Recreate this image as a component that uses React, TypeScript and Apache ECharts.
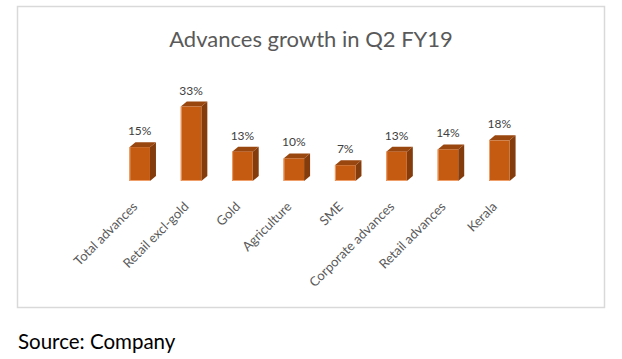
import React, { useEffect, useRef } from "react";
import * as echarts from "echarts";

const categories = [
  "Total advances",
  "Retail excl-gold",
  "Gold",
  "Agriculture",
  "SME",
  "Corporate advances",
  "Retail advances",
  "Kerala",
];
const growth = [15, 33, 13, 10, 7, 13, 14, 18];
const valueLabels = ["15%", "33%", "13%", "10%", "7%", "13%", "14%", "18%"];

const FONT = "Lato, 'Noto Sans', sans-serif";

export default function App() {
  const ref = useRef<HTMLDivElement>(null);
  useEffect(() => {
    if (!ref.current) return;
    const chart = echarts.init(ref.current, null, { renderer: "svg" });
    const dx = 6;
    const dy = 5;
    chart.setOption({
      animation: false,
      backgroundColor: "#ffffff",
      title: [
        {
          text: "Advances growth in Q2 FY19",
          left: "center",
          top: 22,
          textStyle: { fontFamily: FONT, fontSize: 22, fontWeight: "normal", color: "#595959" },
        },
        {
          text: "Source: Company",
          left: 13,
          top: 325,
          textStyle: { fontFamily: FONT, fontSize: 20.5, fontWeight: "normal", color: "#000000" },
        },
      ],
      graphic: [
        {
          type: "rect",
          shape: { x: 17.5, y: 6.5, width: 587, height: 301 },
          style: { fill: "none", stroke: "#D9D9D9", lineWidth: 1.5 },
          silent: true,
        },
      ],
      grid: { left: 114, right: 97, top: 102, bottom: 178 },
      xAxis: {
        type: "category",
        data: categories,
        axisLine: { show: false },
        axisTick: { show: false },
        axisLabel: {
          rotate: 45,
          interval: 0,
          margin: 18,
          padding: [0, 7, 0, 0],
          fontFamily: FONT,
          fontSize: 13,
          color: "#595959",
        },
      },
      yAxis: { type: "value", min: 0, max: 35, show: false, splitLine: { show: false } },
      series: [
        {
          type: "custom",
          data: growth.map((v, i) => [i, v]),
          encode: { x: 0, y: 1 },
          renderItem: (params: any, api: any) => {
            const idx = api.value(0);
            const val = api.value(1);
            const top = api.coord([idx, val]);
            const base = api.coord([idx, 0]);
            const w = api.size([1, 0])[0] * 0.4;
            const cx = top[0];
            const l = cx - w / 2;
            const r = cx + w / 2;
            const t = top[1];
            const b = base[1];
            return {
              type: "group",
              children: [
                {
                  type: "polygon",
                  shape: { points: [[r, t], [r + dx, t - dy], [r + dx, b - dy], [r, b]] },
                  style: { fill: "#843C0C" },
                },
                {
                  type: "polygon",
                  shape: { points: [[l, t], [l + dx, t - dy], [r + dx, t - dy], [r, t]] },
                  style: { fill: "#9A460F" },
                },
                {
                  type: "rect",
                  shape: { x: l, y: t, width: w, height: b - t },
                  style: { fill: "#C55A11" },
                },
                {
                  type: "polyline",
                  shape: { points: [[l + 0.5, t], [l + 0.5, b - 0.5], [r, b - 0.5]] },
                  style: { stroke: "#EFA06A", lineWidth: 1, fill: "none" },
                },
                {
                  type: "text",
                  style: {
                    x: cx,
                    y: t - 16.5,
                    text: valueLabels[idx],
                    fill: "#404040",
                    font: `12px ${FONT}`,
                    align: "center",
                    verticalAlign: "middle",
                  },
                },
              ],
            };
          },
        },
      ],
    });
    return () => chart.dispose();
  }, []);
  return (
    <div
      ref={ref}
      style={{ position: "absolute", left: 0, top: 0, width: 622, height: 359 }}
    />
  );
}
